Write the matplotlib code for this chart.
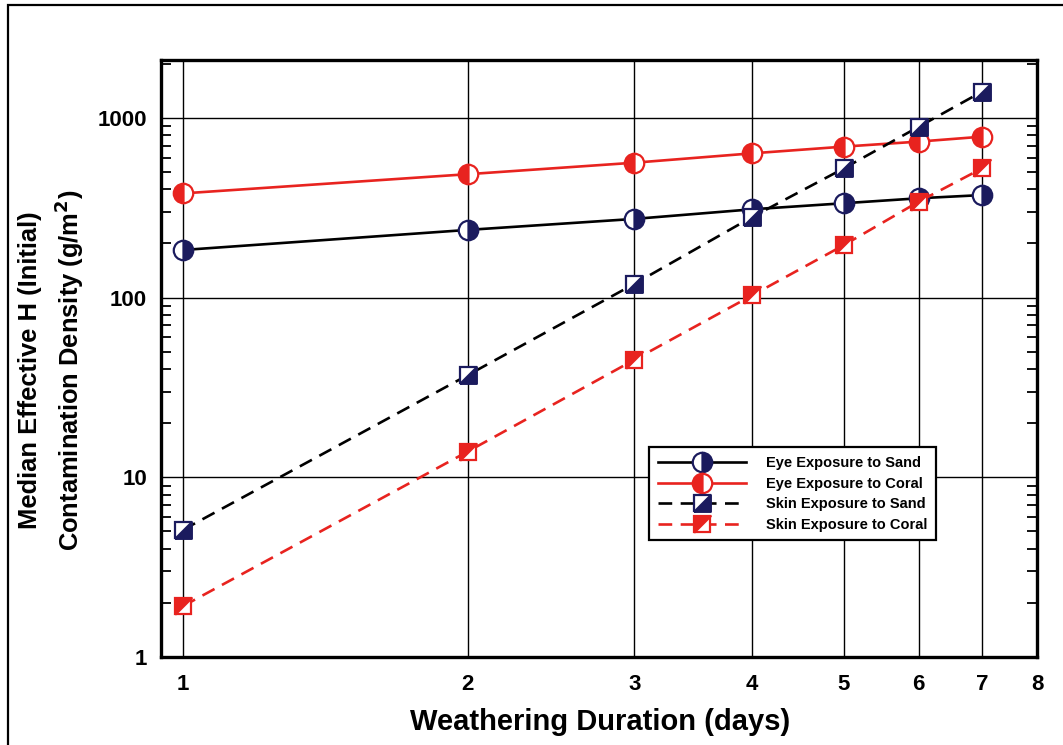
import matplotlib
matplotlib.use("Agg")
import matplotlib.pyplot as plt
from matplotlib.ticker import FixedLocator, FixedFormatter, LogLocator, NullFormatter
from matplotlib.patches import Rectangle
from matplotlib.legend_handler import HandlerTuple

plt.rcParams['font.family'] = ['Liberation Sans', 'DejaVu Sans']
plt.rcParams['font.weight'] = 'bold'

days = [1, 2, 3, 4, 5, 6, 7]
eye_sand = [184, 238, 274, 310, 335, 357, 372]
eye_coral = [380, 486, 563, 635, 692, 738, 786]
skin_sand = [5.1, 37, 119, 281, 524, 893, 1400]
skin_coral = [1.92, 13.9, 45, 103, 196, 342, 524]

x_ticks = [1, 2, 3, 4, 5, 6, 7, 8]
x_ticklabels = ['1', '2', '3', '4', '5', '6', '7', '8']
y_ticks = [1, 10, 100, 1000]
y_ticklabels = ['1', '10', '100', '1000']

labels = ['Eye Exposure to Sand', 'Eye Exposure to Coral',
          'Skin Exposure to Sand', 'Skin Exposure to Coral']

NAVY = '#1b1b5e'
RED = '#e8231f'
DASH = (5.2, 3.2)

tri_lr = [(-1, -1), (1, -1), (1, 1), (-1, -1)]   # lower-right triangle
tri_ul = [(-1, -1), (-1, 1), (1, 1), (-1, -1)]   # upper-left triangle

fig = plt.figure(figsize=(10.63, 7.45), dpi=100)
ax = fig.add_axes([0.1515, 0.1181, 0.8240, 0.8014])
ax.set_xscale('log')
ax.set_yscale('log')
ax.set_xlim(0.948, 8)
ax.set_ylim(1, 2100)

# grid
for xv in x_ticks[:-1]:
    ax.axvline(xv, color='black', lw=1.0, zorder=1)
for yv in y_ticks[1:]:
    ax.axhline(yv, color='black', lw=1.0, zorder=1)

ms_c = 14
ms_s = 12
mew = 1.6

h1, = ax.plot(days, eye_sand, color='black', lw=1.9, marker='o', ms=ms_c,
              fillstyle='right', markerfacecolor=NAVY, markerfacecoloralt='white',
              markeredgecolor=NAVY, markeredgewidth=mew, zorder=3)
h2, = ax.plot(days, eye_coral, color=RED, lw=1.9, marker='o', ms=ms_c,
              fillstyle='left', markerfacecolor=RED, markerfacecoloralt='white',
              markeredgecolor=RED, markeredgewidth=mew, zorder=3)
h3a, = ax.plot(days, skin_sand, color='black', lw=1.9, dashes=DASH, marker='s', ms=ms_s,
               markerfacecolor='white', markeredgecolor=NAVY, markeredgewidth=mew, zorder=4)
h3b, = ax.plot(days, skin_sand, linestyle='none', marker=tri_lr, ms=ms_s,
               markerfacecolor=NAVY, markeredgecolor=NAVY, markeredgewidth=mew, zorder=5)
h4a, = ax.plot(days, skin_coral, color=RED, lw=1.9, dashes=DASH, marker='s', ms=ms_s,
               markerfacecolor='white', markeredgecolor=RED, markeredgewidth=mew, zorder=4)
h4b, = ax.plot(days, skin_coral, linestyle='none', marker=tri_ul, ms=ms_s,
               markerfacecolor=RED, markeredgecolor=RED, markeredgewidth=mew, zorder=5)

# ticks
ax.xaxis.set_major_locator(FixedLocator(x_ticks))
ax.xaxis.set_major_formatter(FixedFormatter(x_ticklabels))
ax.xaxis.set_minor_locator(FixedLocator([]))
ax.yaxis.set_major_locator(FixedLocator(y_ticks))
ax.yaxis.set_major_formatter(FixedFormatter(y_ticklabels))
ax.yaxis.set_minor_locator(LogLocator(base=10, subs=(2, 3, 4, 5, 6, 7, 8, 9)))
ax.yaxis.set_minor_formatter(NullFormatter())
ax.tick_params(axis='x', which='major', length=0, pad=12, labelsize=16)
ax.tick_params(axis='y', which='major', length=0, pad=10, labelsize=16)
ax.tick_params(axis='y', which='minor', direction='in', length=7.5, width=1.3,
               left=True, right=True)
for lab in ax.get_xticklabels() + ax.get_yticklabels():
    lab.set_fontweight('bold')

for sp in ax.spines.values():
    sp.set_linewidth(2.4)
    sp.set_color('black')

# axis labels
fig.text(600 / 1063, 1 - 722 / 745, 'Weathering Duration (days)', fontsize=21,
         fontweight='bold', ha='center', va='center')
fig.text(52 / 1063, 1 - 370 / 745,
         'Median Effective H (Initial)\nContamination Density (g/m$^\\mathbf{2}$)',
         fontsize=18.4, fontweight='bold', rotation=90, ha='center', va='center',
         multialignment='center', linespacing=1.4)

# legend
leg = ax.legend([h1, h2, (h3a, h3b), (h4a, h4b)], labels,
                handler_map={tuple: HandlerTuple(ndivide=1)},
                loc='upper left', bbox_to_anchor=(642 / 1063, 1 - 440 / 745),
                bbox_transform=fig.transFigure, fontsize=10.5, frameon=True,
                fancybox=False, framealpha=1, edgecolor='black',
                handlelength=6.0, handletextpad=1.4, labelspacing=0.45,
                borderpad=0.6, numpoints=1, markerscale=1.0)
leg.get_frame().set_linewidth(1.6)
for t in leg.get_texts():
    t.set_fontweight('bold')
leg.set_zorder(10)

# outer frame of the figure
fig.add_artist(Rectangle((8 / 1063, -0.1), 1.2, 1.1 - 5 / 745,
                         transform=fig.transFigure, fill=False, lw=1.6,
                         edgecolor='black'))

fig.savefig('out.png', dpi=100)
